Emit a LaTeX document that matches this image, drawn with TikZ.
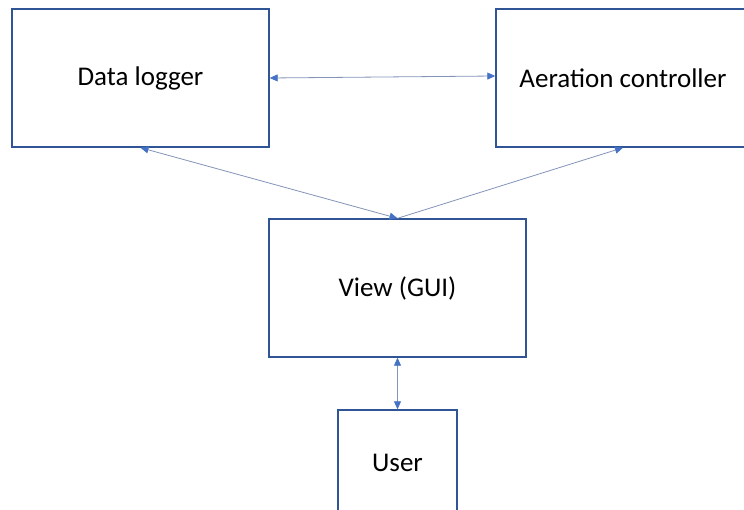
\documentclass[tikz,border=0pt]{standalone}
\usepackage{fontspec}
\setmainfont{Carlito}
\usetikzlibrary{arrows.meta}
\definecolor{boxblue}{HTML}{2F5597}
\definecolor{lineblue}{HTML}{4472C4}
\definecolor{linegrey}{HTML}{8394B8}
\begin{document}
\begin{tikzpicture}[x=1pt,y=-1pt,
  box/.style={draw=boxblue, line width=1.4pt, rectangle, inner sep=0pt,
    minimum width=257pt, minimum height=138pt, font=\fontsize{27}{32}\selectfont},
  conn/.style={draw=linegrey, line width=0.8pt,
    {Triangle[length=8pt,width=7pt,color=lineblue]}-{Triangle[length=8pt,width=7pt,color=lineblue]}},
  conn1/.style={draw=linegrey, line width=0.8pt,
    -{Triangle[length=8pt,width=7pt,color=lineblue]}}]
\useasboundingbox (0,0) rectangle (744,510);
\clip (0,0) rectangle (744,510);
\node[box] (dl) at (140.5,78) {Data logger};
\node[box, minimum width=254pt] (ac) at (623,78) {Aeration controller};
\node[box] (gui) at (397.5,288) {View (GUI)};
\node[box, minimum width=119pt, text height=18pt, text depth=33pt] (user) at (397.5,479) {User};
\draw[conn] ([yshift=0pt]dl.east) -- ([yshift=2pt]ac.west);
\draw[conn] (gui.north) -- (dl.south);
\draw[conn1] (gui.north) -- (ac.south);
\draw[conn] (gui.south) -- (user.north);
\end{tikzpicture}
\end{document}
